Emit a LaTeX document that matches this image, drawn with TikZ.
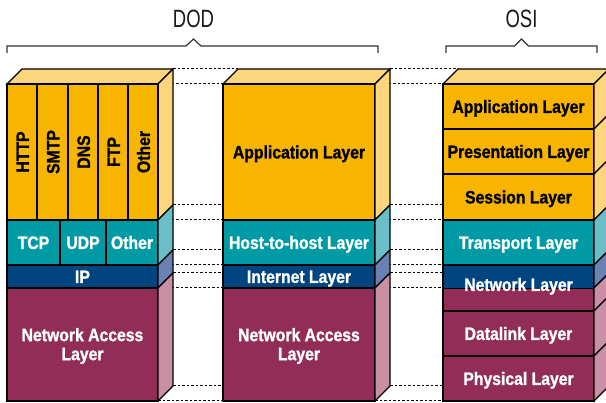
\documentclass[tikz,border=0pt]{standalone}
\usepackage{fontspec}
\newfontfamily\condb{Liberation Sans}[FakeStretch=0.875,BoldFont={Liberation Sans Bold},BoldFeatures={FakeBold=1.2}]
\newfontfamily\condt{Liberation Sans}[FakeStretch=0.74]
\definecolor{ylw}{HTML}{F7B500}
\definecolor{ylwS}{HTML}{FDD57D}
\definecolor{tel}{HTML}{009AA4}
\definecolor{telS}{HTML}{6ABFC6}
\definecolor{nvy}{HTML}{00457F}
\definecolor{nvyS}{HTML}{6A82B2}
\definecolor{mrn}{HTML}{912D56}
\definecolor{mrnS}{HTML}{C98FA4}
\newcommand\mytopface[2]{\filldraw[edge,fill=ylwS] (#1,84) -- (#1+15,69) -- (#2+15,69) -- (#2,84) -- cycle;}
\newcommand\mysect[6]{%
  \filldraw[edge,fill=#5] (#1,#3) rectangle (#2,#4);
  \filldraw[edge,fill=#6] (#2,#3) -- (#2+15,#3-15) -- (#2+15,#4-15) -- (#2,#4) -- cycle;}
\newcommand\mydots[2]{%
  \foreach \yy in {84,220,265,288,401}{
    \draw[dotl] (#1+15,\yy-15) -- (#2+15,\yy-15);
    \draw[dotl] (#1,\yy) -- (#2,\yy);}}
\tikzset{
  edge/.style={draw=black,line width=1.1pt,line join=miter},
  dotl/.style={draw=black,line width=1pt,dash pattern=on 2.5pt off 2pt},
  brace/.style={draw=black!80,line width=1.2pt},
  lbl/.style={font=\condb\bfseries\fontsize{18}{19}\selectfont,text=white,align=center,inner sep=0pt,text height=12.9pt,text depth=0pt},
  lblk/.style={lbl,text=black},
  lbltwo/.style={font=\condb\bfseries\fontsize{18}{19}\selectfont,text=white,align=center,inner sep=0pt},
  ttl/.style={font=\condt\fontsize{25}{28}\selectfont,text=black!90,inner sep=0pt}
}
\begin{document}
\begin{tikzpicture}[x=1pt,y=-1pt]
\useasboundingbox (0,0) rectangle (606,403);
\clip (0,0) rectangle (606,403);
% titles and braces
\node[ttl] (dod) at (193.5,18.5) {DOD};
\node[ttl] (osi) at (521.5,18.5) {OSI};
\draw[brace] (7,53) -- (7,46) -- (186,46) -- (193.5,39) -- (201,46) -- (378,46) -- (378,53);
\draw[brace] (446,53) -- (446,46) -- (514.5,46) -- (521.5,39) -- (528.5,46) -- (597,46) -- (597,53);
% dotted connectors
\mydots{158}{223}
\mydots{375}{443}
% left stack
\mytopface{7}{158}
\mysect{7}{158}{84}{220}{ylw}{ylwS}
\foreach \xa/\xb in {7/37,37/68,68/98,98/128,128/158}
  \draw[edge] (\xa,84) rectangle (\xb,220);
\mysect{7}{158}{220}{265}{tel}{telS}
\draw[edge] (60,220) -- (60,265);
\draw[edge] (106,220) -- (106,265);
\mysect{7}{158}{265}{288}{nvy}{nvyS}
\mysect{7}{158}{288}{401}{mrn}{mrnS}
\node[lblk,rotate=90] (http) at (22.5,152) {HTTP};
\node[lblk,rotate=90] (smtp) at (53,152) {SMTP};
\node[lblk,rotate=90] (dns) at (83.5,152) {DNS};
\node[lblk,rotate=90] (ftp) at (113.5,152) {FTP};
\node[lblk,rotate=90] (oth1) at (143.5,152) {Other};
\node[lbl] (tcp) at (33.5,242.5) {TCP};
\node[lbl] (udp) at (83,242.5) {UDP};
\node[lbl] (oth2) at (132,242.5) {Other};
\node[lbl] (ip) at (82.5,276.5) {IP};
\node[lbltwo] (nal1) at (82.5,346) {Network Access\\Layer};
% middle stack
\mytopface{223}{375}
\mysect{223}{375}{84}{220}{ylw}{ylwS}
\mysect{223}{375}{220}{265}{tel}{telS}
\mysect{223}{375}{265}{288}{nvy}{nvyS}
\mysect{223}{375}{288}{401}{mrn}{mrnS}
\node[lblk] (app) at (299,152) {Application Layer};
\node[lbl] (h2h) at (299,242.5) {Host-to-host Layer};
\node[lbl] (inet) at (299,276.5) {Internet Layer};
\node[lbltwo] (nal2) at (299,346) {Network Access\\Layer};
% right stack
\mytopface{443}{594}
\mysect{443}{594}{84}{129}{ylw}{ylwS}
\mysect{443}{594}{129}{174}{ylw}{ylwS}
\mysect{443}{594}{174}{220}{ylw}{ylwS}
\mysect{443}{594}{220}{265}{tel}{telS}
\mysect{443}{594}{265}{288}{nvy}{nvyS}
\mysect{443}{594}{288}{311}{mrn}{mrnS}
\fill[nvy] (443.6,265.6) rectangle (593.4,288);
\mysect{443}{594}{311}{356}{mrn}{mrnS}
\mysect{443}{594}{356}{401}{mrn}{mrnS}
\node[lblk] (oapp) at (518.5,106.5) {Application Layer};
\node[lblk] (opres) at (518.5,151.5) {Presentation Layer};
\node[lblk] (osess) at (518.5,197) {Session Layer};
\node[lbl] (otrans) at (518.5,242.5) {Transport Layer};
\node[lbl] (onet) at (518.5,284.5) {Network Layer};
\node[lbl] (odl) at (518.5,333.5) {Datalink Layer};
\node[lbl] (ophy) at (518.5,378.5) {Physical Layer};
\end{tikzpicture}
\end{document}
